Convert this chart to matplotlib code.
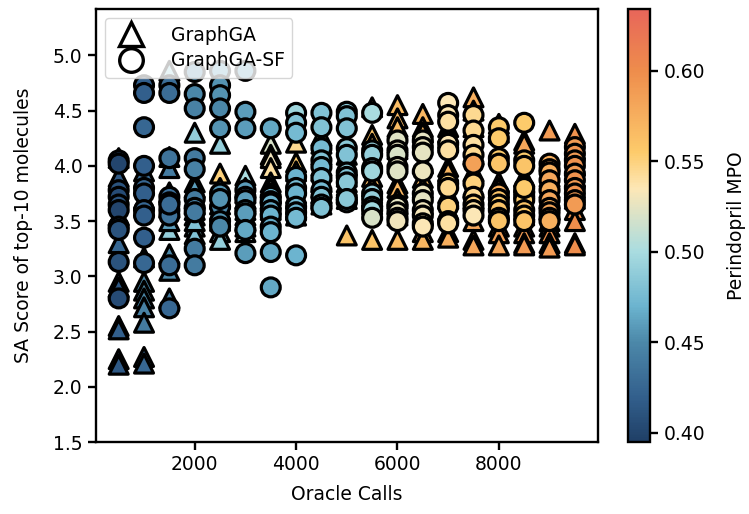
import matplotlib
matplotlib.use("Agg")
import matplotlib.pyplot as plt
from matplotlib.colors import LinearSegmentedColormap, Normalize
from matplotlib.lines import Line2D
import numpy as np

oracle_calls = [500, 1000, 1500, 2000, 2500, 3000, 3500, 4000, 4500, 5000,
                5500, 6000, 6500, 7000, 7500, 8000, 8500, 9000, 9500]

# GraphGA (triangles): SA scores of top-10 per oracle-call checkpoint
ga_sa = [
    [4.07, 3.9, 3.55, 3.3, 2.95, 2.9, 2.55, 2.52, 2.25, 2.2],
    [3.95, 3.7, 3.17, 2.95, 2.87, 2.8, 2.72, 2.58, 2.27, 2.21],
    [4.86, 4.08, 3.98, 3.76, 3.62, 3.42, 3.2, 3.05, 2.8, 3.5],
    [4.3, 3.85, 3.8, 3.65, 3.45, 3.38, 3.55, 3.7, 3.6, 3.5],
    [4.2, 3.93, 3.8, 3.7, 3.6, 3.5, 3.4, 3.33, 3.65, 3.55],
    [3.91, 3.8, 3.75, 3.7, 3.65, 3.6, 3.55, 3.5, 3.45, 3.4],
    [4.2, 4.1, 4.07, 3.98, 3.85, 3.8, 3.75, 3.7, 3.65, 3.6],
    [4.21, 4.03, 3.95, 3.85, 3.75, 3.7, 3.65, 3.6, 3.55, 3.62],
    [4.27, 4.2, 4.1, 4.0, 3.95, 3.85, 3.8, 3.75, 3.7, 3.65],
    [4.1, 4.0, 3.9, 3.85, 3.82, 3.8, 3.78, 3.75, 3.7, 3.37],
    [4.53, 4.28, 4.2, 4.05, 3.9, 3.81, 3.75, 3.72, 3.65, 3.33],
    [4.55, 4.43, 4.35, 4.15, 3.84, 3.8, 3.7, 3.65, 3.55, 3.33],
    [4.47, 4.35, 4.3, 4.02, 3.89, 3.8, 3.65, 3.55, 3.4, 3.33],
    [4.35, 4.3, 4.25, 3.99, 3.95, 3.75, 3.7, 3.6, 3.4, 3.35],
    [4.62, 4.5, 4.35, 4.1, 3.95, 3.8, 3.7, 3.5, 3.33, 3.28],
    [4.38, 4.3, 4.1, 3.85, 3.8, 3.7, 3.6, 3.45, 3.39, 3.28],
    [4.23, 4.2, 3.9, 3.85, 3.6, 3.55, 3.45, 3.39, 3.3, 3.28],
    [4.32, 3.9, 3.8, 3.7, 3.6, 3.5, 3.45, 3.39, 3.3, 3.26],
    [4.29, 4.15, 4.0, 3.9, 3.8, 3.7, 3.6, 3.5, 3.3, 3.28],
]
ga_mpo = [
    [0.42, 0.415, 0.42, 0.425, 0.42, 0.415, 0.425, 0.42, 0.42, 0.415],
    [0.43, 0.44, 0.445, 0.45, 0.455, 0.45, 0.445, 0.44, 0.43, 0.425],
    [0.49, 0.44, 0.44, 0.45, 0.45, 0.49, 0.45, 0.45, 0.44, 0.46],
    [0.49, 0.47, 0.46, 0.46, 0.49, 0.48, 0.47, 0.46, 0.47, 0.48],
    [0.49, 0.55, 0.48, 0.47, 0.48, 0.49, 0.48, 0.49, 0.47, 0.48],
    [0.50, 0.51, 0.50, 0.51, 0.52, 0.50, 0.51, 0.50, 0.52, 0.51],
    [0.52, 0.52, 0.53, 0.54, 0.52, 0.52, 0.53, 0.52, 0.53, 0.52],
    [0.545, 0.555, 0.55, 0.545, 0.55, 0.555, 0.55, 0.545, 0.55, 0.555],
    [0.555, 0.56, 0.555, 0.56, 0.555, 0.56, 0.555, 0.56, 0.555, 0.56],
    [0.56, 0.555, 0.56, 0.565, 0.56, 0.555, 0.56, 0.565, 0.56, 0.56],
    [0.565, 0.56, 0.565, 0.56, 0.565, 0.56, 0.565, 0.56, 0.565, 0.56],
    [0.565, 0.57, 0.565, 0.57, 0.565, 0.57, 0.565, 0.57, 0.565, 0.565],
    [0.57, 0.565, 0.57, 0.565, 0.57, 0.565, 0.57, 0.565, 0.57, 0.57],
    [0.57, 0.575, 0.57, 0.575, 0.57, 0.575, 0.57, 0.575, 0.57, 0.575],
    [0.575, 0.58, 0.575, 0.58, 0.575, 0.58, 0.575, 0.58, 0.575, 0.58],
    [0.58, 0.575, 0.58, 0.60, 0.585, 0.58, 0.585, 0.58, 0.585, 0.58],
    [0.585, 0.58, 0.585, 0.59, 0.585, 0.58, 0.585, 0.59, 0.585, 0.59],
    [0.59, 0.585, 0.59, 0.595, 0.59, 0.585, 0.59, 0.595, 0.59, 0.59],
    [0.595, 0.60, 0.595, 0.60, 0.595, 0.60, 0.595, 0.60, 0.595, 0.60],
]

# GraphGA-SF (circles)
sf_sa = [
    [4.05, 4.02, 3.78, 3.72, 3.65, 3.6, 3.45, 3.42, 3.13, 2.8],
    [4.73, 4.66, 4.35, 4.0, 3.8, 3.75, 3.6, 3.35, 3.12, 3.55],
    [4.73, 4.66, 4.07, 3.72, 3.67, 3.6, 3.55, 3.1, 2.71, 3.65],
    [4.85, 4.65, 4.52, 4.07, 3.97, 3.7, 3.62, 3.58, 3.25, 3.1],
    [4.86, 4.73, 4.64, 4.52, 4.34, 3.75, 3.63, 3.5, 3.45, 3.7],
    [4.86, 4.49, 4.34, 3.78, 3.72, 3.69, 3.6, 3.57, 3.42, 3.21],
    [4.34, 3.72, 3.68, 3.66, 3.6, 3.55, 3.45, 3.4, 3.22, 2.9],
    [4.48, 4.39, 4.3, 3.9, 3.8, 3.75, 3.63, 3.58, 3.53, 3.19],
    [4.48, 4.35, 4.16, 4.05, 3.99, 3.89, 3.78, 3.72, 3.65, 3.62],
    [4.49, 4.45, 4.34, 4.16, 4.1, 3.94, 3.9, 3.85, 3.67, 3.7],
    [4.48, 4.14, 4.1, 3.98, 3.95, 3.75, 3.7, 3.63, 3.6, 3.53],
    [4.23, 4.14, 4.1, 3.99, 3.95, 3.65, 3.63, 3.58, 3.53, 3.5],
    [4.23, 4.17, 4.12, 3.95, 3.75, 3.69, 3.6, 3.55, 3.48, 3.45],
    [4.57, 4.46, 4.4, 4.2, 4.14, 3.84, 3.8, 3.63, 3.5, 3.48],
    [4.46, 4.32, 4.19, 4.1, 4.02, 3.84, 3.72, 3.65, 3.6, 3.55],
    [4.35, 4.25, 4.07, 4.02, 3.75, 3.7, 3.65, 3.6, 3.53, 3.5],
    [4.39, 4.05, 4.0, 3.76, 3.72, 3.69, 3.6, 3.55, 3.5, 3.8],
    [4.02, 3.97, 3.94, 3.87, 3.78, 3.69, 3.62, 3.58, 3.53, 3.5],
    [4.17, 4.11, 4.05, 4.0, 3.93, 3.87, 3.8, 3.75, 3.69, 3.65],
]
sf_mpo = [
    [0.405, 0.40, 0.41, 0.405, 0.41, 0.40, 0.405, 0.41, 0.41, 0.405],
    [0.42, 0.42, 0.425, 0.42, 0.425, 0.42, 0.425, 0.42, 0.425, 0.42],
    [0.43, 0.43, 0.435, 0.43, 0.435, 0.43, 0.435, 0.43, 0.425, 0.43],
    [0.45, 0.45, 0.445, 0.44, 0.445, 0.44, 0.445, 0.44, 0.44, 0.44],
    [0.46, 0.455, 0.455, 0.45, 0.455, 0.455, 0.45, 0.455, 0.45, 0.455],
    [0.46, 0.46, 0.46, 0.46, 0.465, 0.46, 0.465, 0.46, 0.465, 0.46],
    [0.465, 0.47, 0.465, 0.47, 0.465, 0.47, 0.465, 0.47, 0.465, 0.465],
    [0.495, 0.48, 0.475, 0.47, 0.475, 0.47, 0.475, 0.47, 0.475, 0.47],
    [0.48, 0.48, 0.475, 0.48, 0.475, 0.48, 0.475, 0.48, 0.475, 0.48],
    [0.485, 0.48, 0.48, 0.485, 0.48, 0.485, 0.48, 0.485, 0.48, 0.485],
    [0.50, 0.49, 0.49, 0.49, 0.495, 0.49, 0.49, 0.49, 0.495, 0.52],
    [0.522, 0.525, 0.52, 0.525, 0.522, 0.525, 0.525, 0.528, 0.525, 0.53],
    [0.525, 0.528, 0.525, 0.528, 0.528, 0.525, 0.53, 0.532, 0.535, 0.535],
    [0.535, 0.535, 0.54, 0.535, 0.54, 0.55, 0.545, 0.55, 0.535, 0.54],
    [0.545, 0.545, 0.54, 0.545, 0.585, 0.55, 0.545, 0.55, 0.54, 0.535],
    [0.555, 0.555, 0.555, 0.56, 0.575, 0.56, 0.555, 0.56, 0.555, 0.56],
    [0.555, 0.555, 0.56, 0.555, 0.56, 0.555, 0.56, 0.555, 0.56, 0.555],
    [0.575, 0.58, 0.575, 0.58, 0.575, 0.58, 0.575, 0.58, 0.575, 0.575],
    [0.59, 0.595, 0.59, 0.595, 0.59, 0.595, 0.59, 0.595, 0.59, 0.59],
]

vmin, vmax = 0.395, 0.634
stops = [(0.395, "#1f3f66"), (0.42, "#33608d"), (0.45, "#4c88a9"),
         (0.47, "#6cb4cf"), (0.50, "#a9dce0"), (0.52, "#d9e2c8"),
         (0.535, "#fde7b6"), (0.555, "#fdcb6b"), (0.58, "#f5a85b"),
         (0.60, "#ee8d4c"), (0.634, "#e8665a")]
cmap = LinearSegmentedColormap.from_list(
    "mpo", [((v - vmin) / (vmax - vmin), c) for v, c in stops])
norm = Normalize(vmin=vmin, vmax=vmax)

plt.rcParams['font.family'] = ['DejaVu Sans']
plt.rcParams['font.size'] = 13.5

fig = plt.figure(figsize=(7.49, 5.14), dpi=100)
ax = fig.add_axes([0.128, 0.14, 0.670, 0.8425])
cax = fig.add_axes([0.838, 0.14, 0.030, 0.8425])

def flat(xs, ys):
    px, py = [], []
    for x, col in zip(xs, ys):
        for v in col:
            px.append(x)
            py.append(v)
    return px, py

gx, gy = flat(oracle_calls, ga_sa)
_, gc = flat(oracle_calls, ga_mpo)
sx, sy = flat(oracle_calls, sf_sa)
_, sc = flat(oracle_calls, sf_mpo)

ms = 185
ax.scatter(gx, gy, c=gc, cmap=cmap, norm=norm, marker='^', s=ms,
           edgecolors='black', linewidths=2.3, zorder=2)
sc_art = ax.scatter(sx, sy, c=sc, cmap=cmap, norm=norm, marker='o', s=ms,
                    edgecolors='black', linewidths=2.3, zorder=3)

ax.set_ylim(1.5, 5.42)
ax.set_yticks([1.5, 2.0, 2.5, 3.0, 3.5, 4.0, 4.5, 5.0])
ax.set_xticks([2000, 4000, 6000, 8000])
ax.set_xlabel("Oracle Calls", labelpad=8)
ax.set_ylabel("SA Score of top-10 molecules", labelpad=14)
for sp in ax.spines.values():
    sp.set_linewidth(1.7)
ax.tick_params(width=1.7, length=6)

handles = [
    Line2D([0], [0], marker='^', linestyle='none', markerfacecolor='white',
           markeredgecolor='black', markeredgewidth=2.4, markersize=17),
    Line2D([0], [0], marker='o', linestyle='none', markerfacecolor='white',
           markeredgecolor='black', markeredgewidth=2.4, markersize=17),
]
leg = ax.legend(handles, ["GraphGA", "GraphGA-SF"], loc='upper left',
                fontsize=13.5, handletextpad=1.1, borderpad=0.4,
                labelspacing=0.35, framealpha=0.8)
leg.set_zorder(5)

cb = fig.colorbar(sc_art, cax=cax)
cb.set_ticks([0.40, 0.45, 0.50, 0.55, 0.60])
cb.set_ticklabels(["0.40", "0.45", "0.50", "0.55", "0.60"])
cb.set_label("Perindopril MPO", labelpad=16)
cb.outline.set_linewidth(1.7)
cax.tick_params(width=1.7, length=6)

fig.savefig("out.png", dpi=100)
